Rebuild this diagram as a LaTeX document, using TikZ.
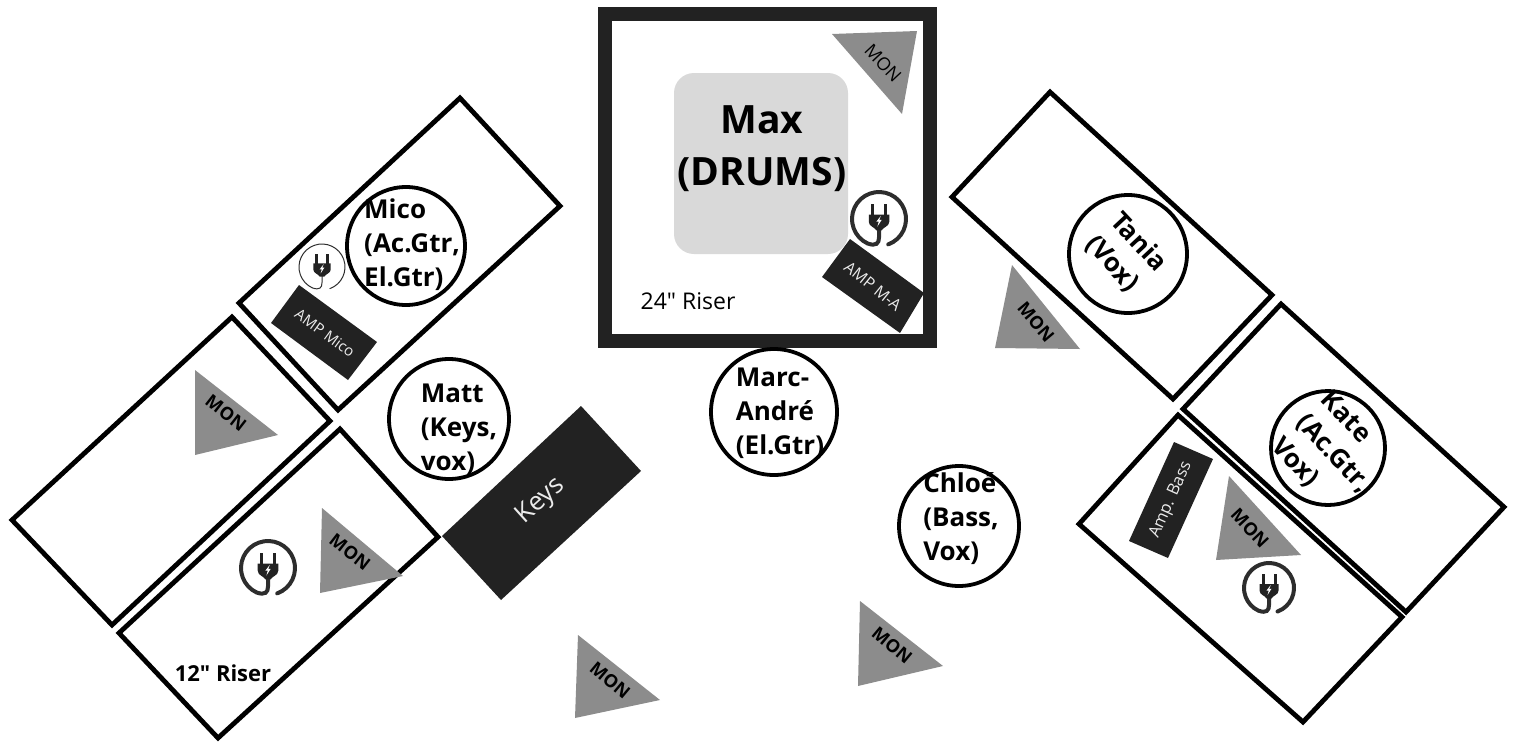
\documentclass[tikz,border=0pt]{standalone}
\usepackage{fontspec}
\setmainfont{Open Sans}[Ligatures=TeXOff]
\definecolor{ink}{HTML}{222222}
\definecolor{drumgrey}{HTML}{D9D9D9}
\definecolor{mongrey}{HTML}{8C8C8C}
\tikzset{
  riser/.style={draw=black,line width=4.8pt,line join=miter,fill=none},
  player/.style={circle,draw=black,line width=3.8pt,minimum size=#1,inner sep=0pt,fill=white},
  who/.style={font=\fontsize{26}{34}\selectfont\bfseries,align=left,inner sep=0pt,text=black},
  mon/.style={fill=mongrey,draw=none},
  monlabel/.style={font=\fontsize{18}{20}\selectfont\bfseries,inner sep=0pt,text=black},
  gear/.style={fill=ink,draw=none},
  gearlabel/.style={text=white!92!black,inner sep=0pt}
}
\newcommand{\plugicon}[4]{%
  \begin{scope}[shift={(#1,#2)},scale=#3]
    \draw[ink!95!white,line width=#4,line cap=round] (70:1) arc[start angle=70,end angle=-245,radius=1]
       .. controls (-0.1,1.02) and (0,0.9) .. (0,0.68) -- (0,0.3);
    \fill[ink] (-0.3,-0.55) rectangle (-0.18,-0.1);
    \fill[ink] (0.18,-0.55) rectangle (0.3,-0.1);
    \fill[ink] (-0.38,-0.16) -- (0.38,-0.16) -- (0.38,0.1) .. controls (0.38,0.28) and (0.15,0.3) .. (0.1,0.42)
       -- (-0.1,0.42) .. controls (-0.15,0.3) and (-0.38,0.28) .. (-0.38,0.1) -- cycle;
    \fill[white] (0.07,-0.12) -- (-0.1,0.1) -- (-0.01,0.1) -- (-0.06,0.28) -- (0.1,0.03) -- (0.01,0.03) -- cycle;
  \end{scope}}
\begin{document}
\begin{tikzpicture}[x=1pt,y=-1pt]
\useasboundingbox (0,0) rectangle (1515,742);
% risers
\draw[riser] (460,98) -- (560,206) -- (338,410) -- (239,303) -- cycle;
\draw[riser] (232,317) -- (330,421) -- (112,625) -- (12,520) -- cycle;
\draw[riser] (340,429) -- (438,537) -- (218,738) -- (119,633) -- cycle;
\draw[riser] (1050,92) -- (1272,295) -- (1173,399) -- (952,197) -- cycle;
\draw[riser] (1281,304) -- (1504,507) -- (1406,612) -- (1183,409) -- cycle;
\draw[riser] (1178,415) -- (1402,617) -- (1303,722) -- (1079,524) -- cycle;
% drum riser
\draw[ink,line width=14pt,line join=miter] (605,14) rectangle (930,341);
\fill[drumgrey,rounded corners=20pt] (674,73) rectangle (848,254);
\node[who,font=\fontsize{39}{52}\selectfont\bfseries,align=center] (max) at (762,149) {Max\\(DRUMS)};
\node[inner sep=0pt,font=\fontsize{23}{26}\selectfont] (riser24) at (688,301) {24" Riser};
\node[who,font=\fontsize{22}{26}\selectfont\bfseries] (riser12) at (223,673) {12" Riser};
% gear
\fill[gear] (850,239) -- (924,293) -- (900,333) -- (822,277) -- cycle;
\node[gearlabel,rotate=-39,font=\fontsize{16}{18}\selectfont] (ampma) at (873,286) {AMP M-A};
\fill[gear] (299,285) -- (377,342) -- (348,380) -- (271,323) -- cycle;
\node[gearlabel,rotate=-36,font=\fontsize{15}{16}\selectfont] (ampmico) at (325,333) {AMP Mico};
\fill[gear] (581,406) -- (641,471) -- (501,600) -- (442,536) -- cycle;
\node[gearlabel,rotate=42,font=\fontsize{26}{28}\selectfont] (keys) at (541,501) {Keys};
\fill[gear] (1174,442) -- (1213,459) -- (1168,558) -- (1129,541) -- cycle;
\node[gearlabel,rotate=66,font=\fontsize{16.5}{18}\selectfont] (ampbass) at (1171,500) {Amp. Bass};
% monitors
\fill[mon] (832,34) -- (917,31) -- (902,114) -- cycle;
\node[monlabel,font=\fontsize{18}{20}\selectfont,rotate=-47] (mon1) at (883,63) {MON};
\fill[mon] (195,370) -- (278,435) -- (195,455) -- cycle;
\node[monlabel,rotate=-38] (mon2) at (226,413) {MON};
\fill[mon] (322,508) -- (403,576) -- (320,593) -- cycle;
\node[monlabel,rotate=-38] (mon3) at (350,552) {MON};
\fill[mon] (1229,476) -- (1301,555) -- (1216,560) -- cycle;
\node[monlabel,rotate=-47] (mon4) at (1250,528) {MON};
\fill[mon] (1012,265) -- (1080,349) -- (995,348) -- cycle;
\node[monlabel,rotate=-50] (mon5) at (1036,322) {MON};
\fill[mon] (578,635) -- (660,700) -- (575,718) -- cycle;
\node[monlabel,rotate=-40] (mon6) at (610,680) {MON};
\fill[mon] (860,601) -- (943,666) -- (858,686) -- cycle;
\node[monlabel,rotate=-40] (mon7) at (892,645) {MON};
% power
\plugicon{879}{219}{27}{4pt}
\plugicon{322}{267}{23}{1pt}
\plugicon{268}{568}{27}{4pt}
\plugicon{1269}{588}{25}{4pt}
% players
\node[player=118pt,fill=none] (micoc) at (406,246) {};
\node[who,anchor=north west] (mico) at (364,199) {Mico\\(Ac.Gtr,\\El.Gtr)};
\node[player=120pt] (mattc) at (449,419) {};
\node[who] (matt) at (459,429) {Matt\\(Keys,\\vox)};
\node[player=126pt] (marcc) at (774,412) {};
\node[who,align=left] (marc) at (780,413) {Marc-\\André\\(El.Gtr)};
\node[player=120pt] (chloec) at (959,526) {};
\node[who] (chloe) at (961,519) {Chloé\\(Bass,\\Vox)};
\node[player=118pt] (taniac) at (1128,254) {};
\node[who,rotate=-47] (tania) at (1126,254) {Tania\\(Vox)};
\node[player=114pt,fill=none] (katec) at (1328,448) {};
\node[who,rotate=-47] (kate) at (1333,454) {Kate\\(Ac.Gtr,\\Vox)};
\end{tikzpicture}
\end{document}
